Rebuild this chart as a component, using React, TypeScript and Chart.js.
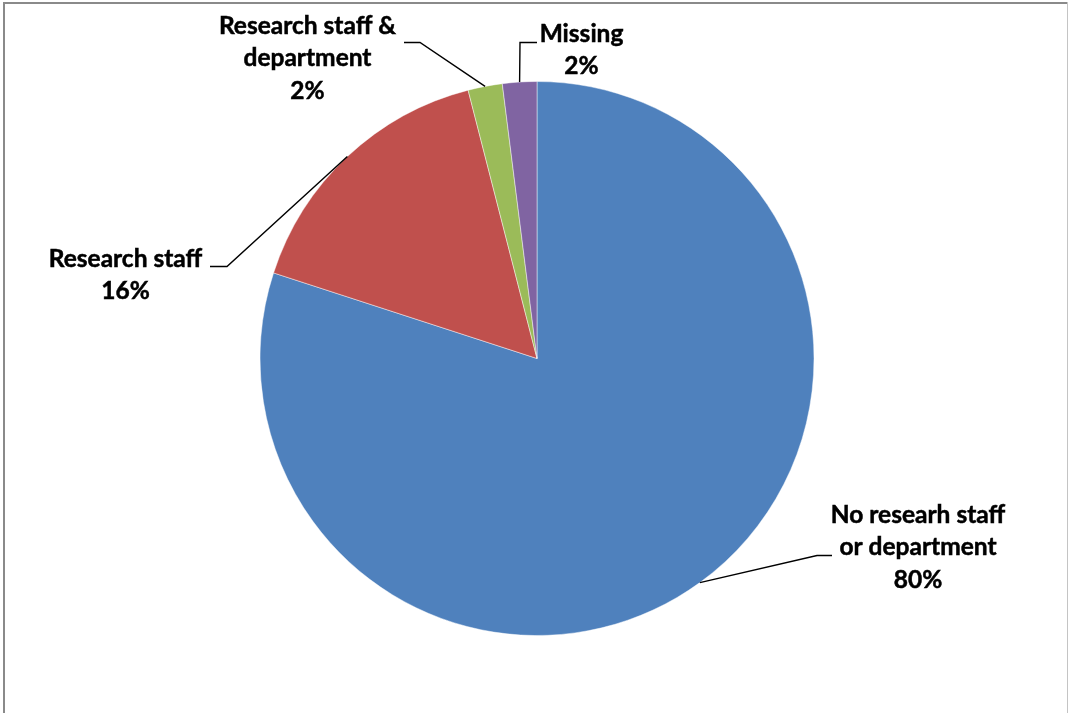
import React, { useEffect, useRef } from "react";
import { Chart, registerables } from "chart.js";

Chart.register(...registerables);

const categories: string[] = [
  "No researh staff or department",
  "Research staff",
  "Research staff & department",
  "Missing",
];
const labelLines: string[][] = [
  ["No researh staff", "or department"],
  ["Research staff"],
  ["Research staff &", "department"],
  ["Missing"],
];
const values: number[] = [80, 16, 2, 2];
const colors: string[] = ["#4F81BD", "#C0504D", "#9BBB59", "#8064A2"];

// Label layout relative to pie centre: elbow point, end point, text centre x, first baseline y
const labelLayout = [
  { ex: 280, ey: 197, tx: 295, ty: 197, cx: 381, by: 164 },
  { ex: -310, ey: -92, tx: -327, ty: -92, cx: -411.5, by: -92 },
  { ex: -117, ey: -316, tx: -133, ty: -316, cx: -229.5, by: -325 },
  { ex: -17, ey: -316, tx: 0, ty: -316, cx: 44.5, by: -317 },
];

const FONT = "bold 24.5px Lato, 'Liberation Sans', sans-serif";
const LINE_H = 32.5;

const framePlugin = {
  id: "frame",
  beforeDraw(chart: any) {
    const ctx = chart.ctx;
    ctx.save();
    ctx.fillStyle = "#ffffff";
    ctx.fillRect(0, 0, chart.width, chart.height);
    ctx.fillStyle = "#8a8a8a";
    ctx.fillRect(3, 2, 1064, 2);
    ctx.fillRect(3, 2, 2, chart.height - 2);
    ctx.fillStyle = "#c4c4c4";
    ctx.fillRect(1067, 2, 1, chart.height - 2);
    ctx.restore();
  },
};

const labelPlugin = {
  id: "pieLabels",
  afterDatasetsDraw(chart: any) {
    const ctx = chart.ctx;
    const meta = chart.getDatasetMeta(0);
    const total = values.reduce((a, b) => a + b, 0);
    ctx.save();
    meta.data.forEach((arc: any, i: number) => {
      const p = arc.getProps(["x", "y", "startAngle", "endAngle", "outerRadius"], true);
      const mid = (p.startAngle + p.endAngle) / 2;
      const sx = p.x + Math.cos(mid) * p.outerRadius;
      const sy = p.y + Math.sin(mid) * p.outerRadius;
      const L = labelLayout[i];
      ctx.strokeStyle = "#000000";
      ctx.lineWidth = 1.4;
      ctx.beginPath();
      ctx.moveTo(sx, sy);
      ctx.lineTo(p.x + L.ex, p.y + L.ey);
      ctx.lineTo(p.x + L.tx, p.y + L.ty);
      ctx.stroke();
      ctx.fillStyle = "#000000";
      ctx.strokeStyle = "#000000";
      ctx.lineWidth = 0.5;
      ctx.font = FONT;
      ctx.textAlign = "center";
      ctx.textBaseline = "alphabetic";
      const lines = [...labelLines[i], Math.round((values[i] / total) * 100) + "%"];
      lines.forEach((t, k) => {
        const x = p.x + L.cx;
        const y = p.y + L.by + k * LINE_H;
        ctx.fillText(t, x, y);
        ctx.strokeText(t, x, y);
      });
    });
    ctx.restore();
  },
};

export default function App() {
  const ref = useRef<HTMLCanvasElement | null>(null);
  useEffect(() => {
    if (!ref.current) return;
    const chart = new Chart(ref.current, {
      type: "pie",
      data: {
        labels: categories,
        datasets: [
          {
            data: values,
            backgroundColor: colors,
            borderColor: "rgba(255,255,255,0.45)",
            borderWidth: 1,
          },
        ],
      },
      options: {
        responsive: false,
        animation: false,
        layout: { padding: { left: 259.5, right: 254.5, top: 81, bottom: 77 } },
        plugins: {
          legend: { display: false },
          tooltip: { enabled: false },
          title: { display: false },
        },
      },
      plugins: [framePlugin, labelPlugin],
    });
    return () => chart.destroy();
  }, []);
  return (
    <div style={{ position: "absolute", left: 0, top: 0, width: 1069, height: 713 }}>
      <canvas ref={ref} width={1069} height={713} style={{ display: "block" }} />
    </div>
  );
}
